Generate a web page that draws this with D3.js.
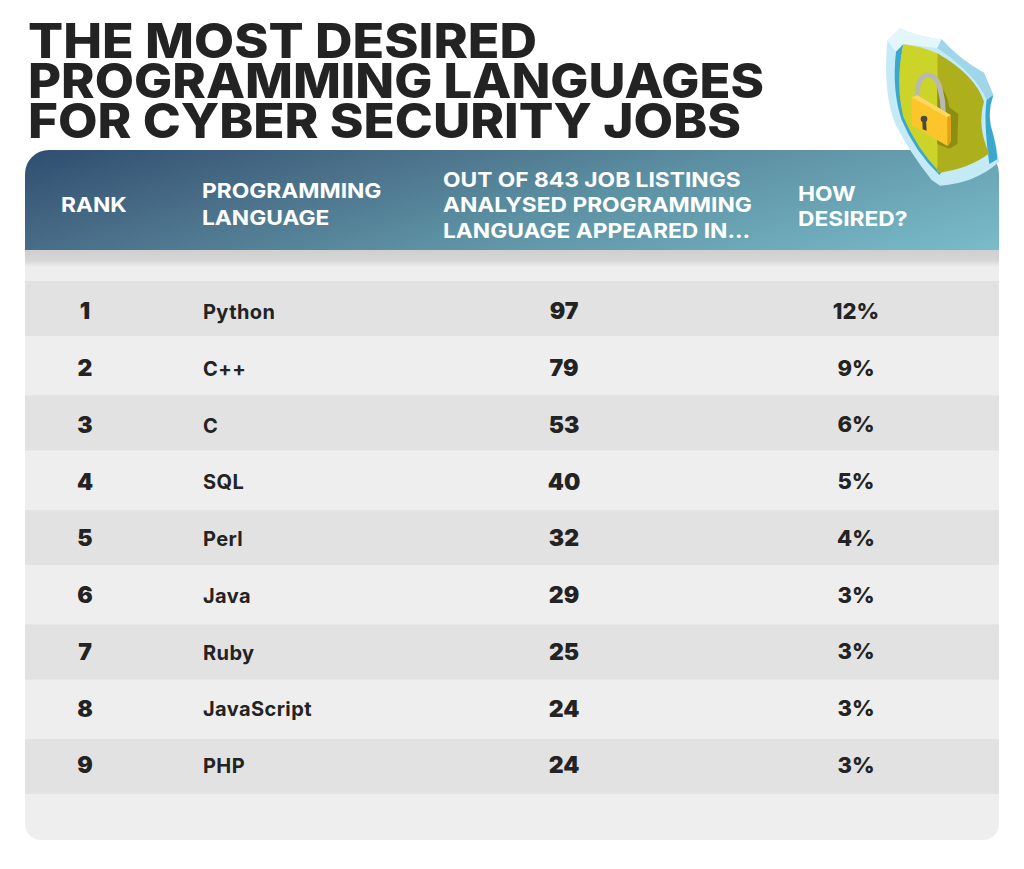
<!DOCTYPE html>
<html>
<head>
<meta charset="utf-8">
<script src="https://cdn.jsdelivr.net/npm/d3@7"></script>
<style>
  html, body { margin: 0; padding: 0; background: #fff; }
  svg { display: block; }
  text { font-family: Inter, "Open Sans", sans-serif; }
</style>
</head>
<body>
<div id="chart"></div>
<script>
const titleLines = ["THE MOST DESIRED", "PROGRAMMING LANGUAGES", "FOR CYBER SECURITY JOBS"]
const ranks = [1, 2, 3, 4, 5, 6, 7, 8, 9]
const languages = ["Python", "C++", "C", "SQL", "Perl", "Java", "Ruby", "JavaScript", "PHP"]
const listings = [97, 79, 53, 40, 32, 29, 25, 24, 24]
const desired = ["12%", "9%", "6%", "5%", "4%", "3%", "3%", "3%", "3%"]
const headRank = ["RANK"]
const headLanguage = ["PROGRAMMING", "LANGUAGE"]
const headListings = ["OUT OF 843 JOB LISTINGS", "ANALYSED PROGRAMMING", "LANGUAGE APPEARED IN..."]
const headDesired = ["HOW", "DESIRED?"]

const WIDTH = 1024
const HEIGHT = 869
const TABLE = {left: 25, right: 999, top: 150, head: 250, bottom: 840, radius: 24}
const COLS = {rank: 85, language: 203, listings: 564, desired: 856}
const INK = "#232323"

const svg = d3.select("#chart").append("svg")
  .attr("width", WIDTH)
  .attr("height", HEIGHT)

// text rows and the darker bands don't share quite the same spacing
const rowY = d3.scaleLinear().domain([1, 9]).range([311, 765])
const bandY = d3.scaleLinear().domain([1, 9]).range([308.5, 766.5])

/*********************************************
// Title
*********************************************/
function drawTitle() {
  const widths = [509, 736, 713]
  svg.append("text")
    .attr("font-size", 48)
    .attr("font-weight", 800)
    .attr("fill", INK)
    .selectAll("tspan")
    .data(titleLines).enter()
    .append("tspan")
    .text((d) => d)
    .attr("x", 28)
    .attr("y", (_, i) => 58 + i * 40)
    .attr("textLength", (_, i) => widths[i])
    .attr("lengthAdjust", "spacingAndGlyphs")
}

/*********************************************
// Table background
*********************************************/
function drawTable() {
  const defs = svg.append("defs")
  const grad = defs.append("linearGradient")
    .attr("id", "head-grad")
    .attr("gradientUnits", "userSpaceOnUse")
    .attr("x1", 25).attr("y1", 150)
    .attr("x2", 125).attr("y2", 500)
  grad.append("stop").attr("offset", 0).attr("stop-color", "#2f4d70")
  grad.append("stop").attr("offset", 0.28).attr("stop-color", "#4a6f88")
  grad.append("stop").attr("offset", 0.55).attr("stop-color", "#5c90a3")
  grad.append("stop").attr("offset", 1).attr("stop-color", "#7abcc9")

  const shadow = defs.append("linearGradient")
    .attr("id", "head-shadow")
    .attr("x1", 0).attr("y1", 0).attr("x2", 0).attr("y2", 1)
  shadow.append("stop").attr("offset", 0).attr("stop-color", "#cfcfcf")
  shadow.append("stop").attr("offset", 0.6).attr("stop-color", "#d6d6d6")
  shadow.append("stop").attr("offset", 1).attr("stop-color", "#eeeeee")

  svg.append("rect")
    .attr("x", TABLE.left)
    .attr("y", TABLE.head)
    .attr("width", TABLE.right - TABLE.left)
    .attr("height", TABLE.bottom - TABLE.head)
    .attr("rx", 16)
    .attr("fill", "#eeeeee")
  svg.append("rect")
    .attr("x", TABLE.left)
    .attr("y", TABLE.head)
    .attr("width", TABLE.right - TABLE.left)
    .attr("height", 100)
    .attr("fill", "#eeeeee")

  svg.append("rect")
    .attr("x", TABLE.left)
    .attr("y", TABLE.head)
    .attr("width", TABLE.right - TABLE.left)
    .attr("height", 17)
    .attr("fill", "url(#head-shadow)")

  const r = TABLE.radius
  const headPath = d3.path()
  headPath.moveTo(TABLE.left, TABLE.head)
  headPath.lineTo(TABLE.left, TABLE.top + r)
  headPath.arcTo(TABLE.left, TABLE.top, TABLE.left + r, TABLE.top, r)
  headPath.lineTo(TABLE.right - r, TABLE.top)
  headPath.arcTo(TABLE.right, TABLE.top, TABLE.right, TABLE.top + r, r)
  headPath.lineTo(TABLE.right, TABLE.head)
  headPath.closePath()
  svg.append("path").attr("d", headPath.toString()).attr("fill", "url(#head-grad)")

  // every odd rank sits on a darker band
  svg.append("g").selectAll("rect")
    .data(ranks.filter((d) => d % 2 === 1)).enter()
    .append("rect")
    .attr("x", TABLE.left)
    .attr("y", (d) => bandY(d) - 27.5)
    .attr("width", TABLE.right - TABLE.left)
    .attr("height", 55)
    .attr("fill", "#e2e2e2")
}

/*********************************************
// Header and rows
*********************************************/
function drawHeaderCell(lines, x, firstY, lineHeight) {
  svg.append("g").selectAll("text")
    .data(lines).enter()
    .append("text")
    .text((d) => d)
    .attr("x", x)
    .attr("y", (_, i) => firstY + i * lineHeight)
    .attr("font-size", 20.5)
    .attr("font-weight", 700)
    .attr("fill", "#ffffff")
    // the original face is wider than Inter
    .attr("textLength", function() { return this.getComputedTextLength() * 1.11 })
    .attr("lengthAdjust", "spacingAndGlyphs")
}

function drawRows() {
  const columns = [
    {values: ranks, x: COLS.rank, anchor: "middle", size: 23, weight: 900, shift: 0, spacing: 0},
    {values: languages, x: COLS.language, anchor: "start", size: 20, weight: 700, shift: 1, spacing: 0.4},
    {values: listings, x: COLS.listings, anchor: "middle", size: 23, weight: 900, shift: 0, spacing: 0},
    {values: desired, x: COLS.desired, anchor: "middle", size: 22, weight: 800, shift: 0, spacing: 0}
  ]
  columns.forEach((col) => {
    svg.append("g").selectAll("text")
      .data(col.values).enter()
      .append("text")
      .text((d) => d)
      .attr("x", col.x)
      .attr("y", (_, i) => rowY(ranks[i]) + col.shift)
      .attr("dy", "0.36em")
      .attr("text-anchor", col.anchor)
      .attr("font-size", col.size)
      .attr("font-weight", col.weight)
      .attr("letter-spacing", col.spacing)
      .attr("fill", INK)
  })
}

/*********************************************
// Shield icon (traced in zoomed-crop units)
*********************************************/
function drawShield() {
  const g = svg.append("g").attr("transform", "translate(860,20) scale(0.3333)")
  const shape = (d, fill) => g.append("path").attr("d", d).attr("fill", fill)

  // body and bevels
  shape("M82,62 L120,25 Q175,52 245,58 Q300,120 372,158 L400,225 Q378,285 400,345 Q412,385 418,425 Q345,490 240,497 L215,480 Q150,400 105,310 Q68,215 82,62 Z", "#c4eaf6")
  shape("M82,62 L120,25 Q175,52 245,58 L232,84 Q180,78 130,73 L108,95 Z", "#e2f6fb")
  shape("M245,58 Q300,120 372,158 L400,225 L380,240 Q350,165 232,84 Z", "#9fd6e8")

  // blue inner edge
  shape("M130,73 L108,95 Q95,210 125,300 Q165,395 238,465 L246,455 Q170,380 130,270 Q110,180 130,73 Z", "#3aa7cf")
  shape("M380,240 L400,225 Q378,285 400,345 Q410,385 412,418 L388,432 Q370,300 380,240 Z", "#3aa7cf")

  // yellow faces
  shape("M130,73 Q180,78 232,100 L232,455 L240,458 Q170,385 130,290 Q105,190 130,73 Z", "#ccd42a")
  shape("M232,100 Q345,165 372,245 Q350,320 388,400 Q330,445 240,458 L232,455 Z", "#adaf1c")

  // lock shadow
  shape("M232,190 Q262,215 268,262 L295,282 L292,372 L268,386 L232,372 Z", "#8c8e14")

  // padlock
  g.append("path")
    .attr("d", "M172,238 C165,150 225,145 240,205 C248,235 250,255 250,280")
    .attr("fill", "none")
    .attr("stroke", "#b9b9b4")
    .attr("stroke-width", 15)
  shape("M155,232 L172,226 L272,285 L272,365 L262,378 L155,315 Z", "#fbc52b")
  shape("M155,232 L172,226 L272,285 L262,292 Z", "#fdd85f")
  shape("M262,292 L272,285 L272,365 L262,378 Z", "#e3a117")
  g.append("circle").attr("cx", 192).attr("cy", 297).attr("r", 10).attr("fill", "#4a4a3a")
  shape("M187,300 L198,300 L200,332 L188,328 Z", "#4a4a3a")
}

drawTable()
drawShield()
drawTitle()
drawHeaderCell(headRank, 61, 211.5, 25)
drawHeaderCell(headLanguage, 202, 198, 26.5)
drawHeaderCell(headListings, 443, 186.5, 25.6)
drawHeaderCell(headDesired, 798, 200.5, 25.6)
drawRows()
</script>
</body>
</html>
